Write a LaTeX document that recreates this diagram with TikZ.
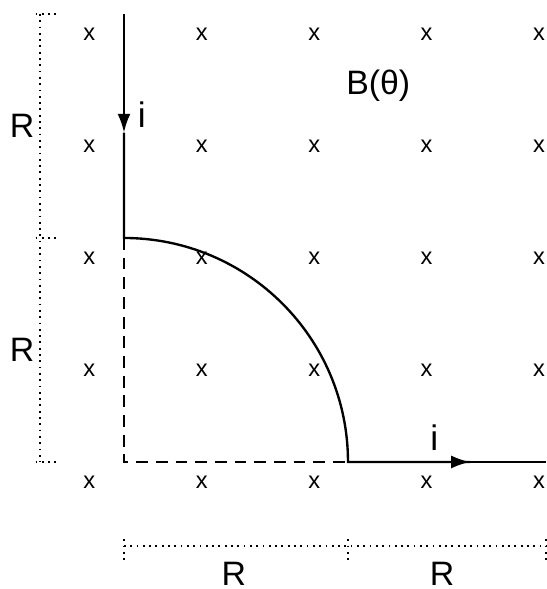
\documentclass[tikz,border=0pt]{standalone}
\usepackage{fontspec}
\setmainfont{Liberation Sans}
\usetikzlibrary{arrows.meta}
\begin{document}
\begin{tikzpicture}[x=1cm,y=1cm,font=\fontsize{8.6}{10}\selectfont,
  wire/.style={line width=.6pt},dimline/.style={line width=.5pt,dash pattern=on .45pt off 1.15pt},
  crs/.style={inner sep=0pt,font=\fontsize{6}{7}\selectfont},tip/.style={-{Latex[length=4.8pt,width=3.3pt]}}]
\useasboundingbox(-1.107,-1.134)rectangle(3.768,4.125);
\foreach \i in {0,...,4}{\foreach \j in {0,...,4}{\node[crs](x\i\j)at(-.31+\i*1.004,-.18+\j){x};}}
\coordinate(top)at(0,4);\coordinate(A)at(0,2);\coordinate(O)at(0,0);\coordinate(C)at(2,0);\coordinate(end)at(3.77,0);
\coordinate(m1)at(0,2.94);\coordinate(m2)at(3.09,0);
\draw[wire,tip](top)--(m1);\draw[wire](m1)--(A)arc(90:0:2)--(m2);\draw[wire,tip](C)--(m2);\draw[wire](m2)--(end);
\draw[wire,dash pattern=on 3pt off 2pt](A)--(O)--(C);
\node[font=\fontsize{9}{10}\selectfont](i1)at(.16,3.1){i};\node[font=\fontsize{9}{10}\selectfont](i2)at(2.77,.22){i};
\node(B)at(2.27,3.36){B(θ)};
% dimensions
\draw[dimline](-.75,4)--(-.75,0);\foreach \y in {0,2,4}\draw[dimline](-.79,\y)--(-.6,\y);
\draw[dimline](0,-.75)--(3.77,-.75);\foreach \x in {0,2,3.77}\draw[dimline](\x,-.69)--(\x,-.89);
\node(r1)at(-.91,3){R};\node(r2)at(-.91,1){R};\node(r3)at(.98,-1){R};\node(r4)at(2.84,-1){R};
\end{tikzpicture}
\end{document}
